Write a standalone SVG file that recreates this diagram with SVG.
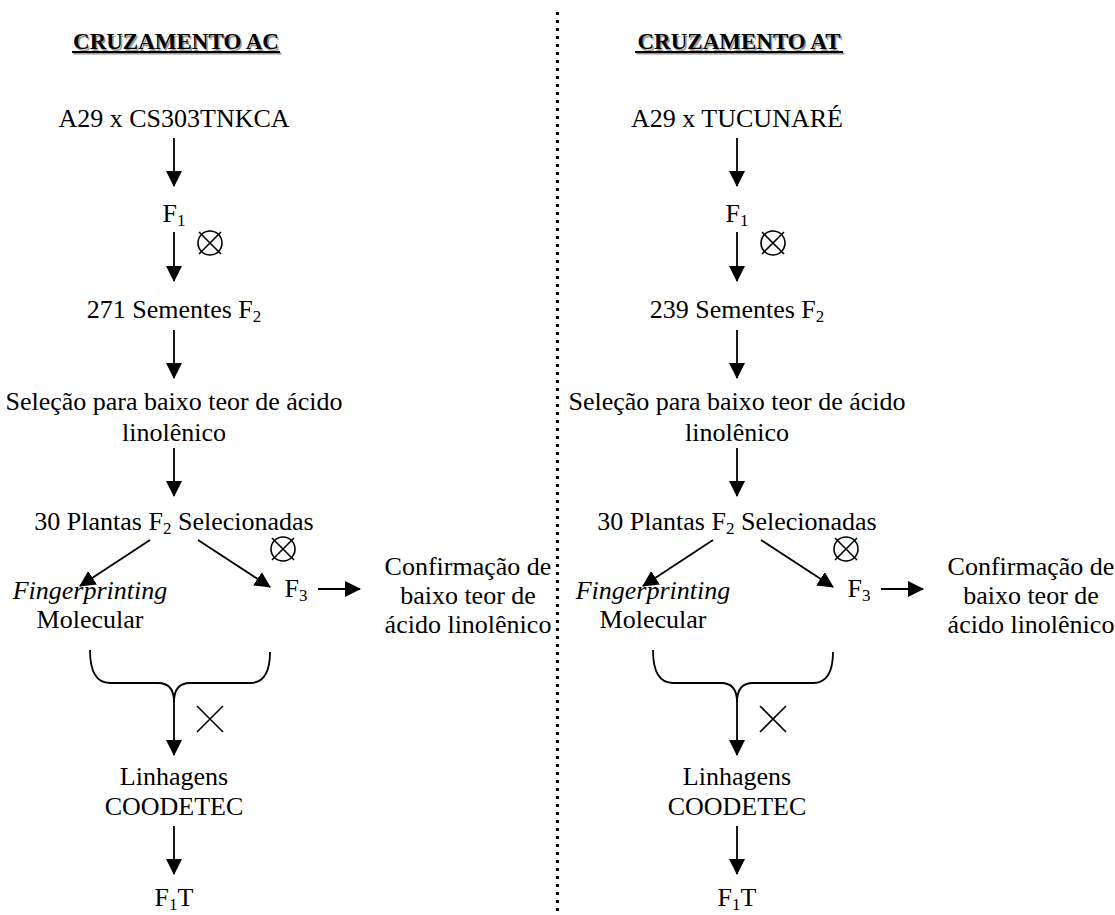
<svg xmlns="http://www.w3.org/2000/svg" width="1115" height="915" viewBox="0 0 1115 915">
<defs>
<style>
text{font-family:"Liberation Serif","Times New Roman",serif;font-size:26px;fill:#000;text-anchor:middle}
.title{font-weight:bold;font-size:23px}
.shadow{fill:#9a9a9a}
.it{font-style:italic}
.sub{font-size:17px}
.ln{stroke:#000;stroke-width:1.8;fill:none}
.arr{stroke:#000;stroke-width:1.8;fill:none;marker-end:url(#ah)}
.sym{stroke:#000;stroke-width:1.6;fill:none}
</style>
<marker id="ah" viewBox="0 0 16 16" refX="15" refY="8" markerWidth="16" markerHeight="16" markerUnits="userSpaceOnUse" orient="auto">
<path d="M0,0 L16,8 L0,16 Z" fill="#000"/>
</marker>
<g id="otimes">
<circle cx="0" cy="0" r="12" class="sym"/>
<path d="M-11,-11 L11,11 M11,-11 L-11,11" class="sym"/>
</g>
<g id="times">
<path d="M-13,-13 L13,13 M13,-13 L-13,13" class="sym" stroke-width="1.4"/>
</g>
</defs>
<rect width="1115" height="915" fill="#fff"/>

<g id="divider">
<line x1="557.5" y1="12" x2="557.5" y2="914" stroke="#000" stroke-width="3" stroke-dasharray="3 5"/>
</g>

<!-- LEFT COLUMN -->
<g id="title-ac">
<text class="title shadow" x="177.5" y="50.5">CRUZAMENTO AC</text>
<rect x="73.5" y="52.5" width="208" height="2" fill="#9a9a9a"/>
<text class="title" x="176" y="49">CRUZAMENTO AC</text>
<rect x="72" y="51" width="208" height="2" fill="#000"/>
</g>
<g id="ac-parents"><text x="174" y="127">A29 x CS303TNKCA</text></g>
<g id="ac-f1"><text x="174" y="222">F<tspan class="sub" dy="4">1</tspan></text></g>
<g id="ac-f2seeds"><text x="174" y="318">271 Sementes F<tspan class="sub" dy="4">2</tspan></text></g>
<g id="ac-selection"><text x="174" y="410">Seleção para baixo teor de ácido</text><text x="174" y="441">linolênico</text></g>
<g id="ac-plants"><text x="174" y="530">30 Plantas F<tspan class="sub" dy="4">2</tspan><tspan dy="-4"> Selecionadas</tspan></text></g>
<g id="ac-fingerprinting"><text class="it" x="90" y="599">Fingerprinting</text><text x="90" y="628">Molecular</text></g>
<g id="ac-f3"><text x="296" y="597">F<tspan class="sub" dy="4">3</tspan></text></g>
<g id="ac-confirm"><text x="468" y="575">Confirmação de</text><text x="468" y="604">baixo teor de</text><text x="468" y="633">ácido linolênico</text></g>
<g id="ac-lines"><text x="174" y="785">Linhagens</text><text x="174" y="815">COODETEC</text></g>
<g id="ac-f1t"><text x="174" y="906">F<tspan class="sub" dy="4">1</tspan><tspan dy="-4">T</tspan></text></g>
<g id="ac-symbols">
<use href="#otimes" x="210" y="243"/>
<use href="#otimes" x="283" y="549"/>
<use href="#times" x="210" y="719"/>
</g>

<!-- RIGHT COLUMN -->
<g id="title-at">
<text class="title shadow" x="740.5" y="50.5">CRUZAMENTO AT</text>
<rect x="636.5" y="52.5" width="208" height="2" fill="#9a9a9a"/>
<text class="title" x="739" y="49">CRUZAMENTO AT</text>
<rect x="635" y="51" width="208" height="2" fill="#000"/>
</g>
<g id="at-parents"><text x="737" y="127">A29 x TUCUNARÉ</text></g>
<g id="at-f1"><text x="737" y="222">F<tspan class="sub" dy="4">1</tspan></text></g>
<g id="at-f2seeds"><text x="737" y="318">239 Sementes F<tspan class="sub" dy="4">2</tspan></text></g>
<g id="at-selection"><text x="737" y="410">Seleção para baixo teor de ácido</text><text x="737" y="441">linolênico</text></g>
<g id="at-plants"><text x="737" y="530">30 Plantas F<tspan class="sub" dy="4">2</tspan><tspan dy="-4"> Selecionadas</tspan></text></g>
<g id="at-fingerprinting"><text class="it" x="653" y="599">Fingerprinting</text><text x="653" y="628">Molecular</text></g>
<g id="at-f3"><text x="859" y="597">F<tspan class="sub" dy="4">3</tspan></text></g>
<g id="at-confirm"><text x="1031" y="575">Confirmação de</text><text x="1031" y="604">baixo teor de</text><text x="1031" y="633">ácido linolênico</text></g>
<g id="at-lines"><text x="737" y="785">Linhagens</text><text x="737" y="815">COODETEC</text></g>
<g id="at-f1t"><text x="737" y="906">F<tspan class="sub" dy="4">1</tspan><tspan dy="-4">T</tspan></text></g>
<g id="at-symbols">
<use href="#otimes" x="773" y="243"/>
<use href="#otimes" x="846" y="549"/>
<use href="#times" x="773" y="719"/>
</g>

<g id="connectors">
<line class="arr" x1="174" y1="138" x2="174" y2="186"/>
<line class="arr" x1="174" y1="232" x2="174" y2="281"/>
<line class="arr" x1="174" y1="330" x2="174" y2="378"/>
<line class="arr" x1="174" y1="448" x2="174" y2="496"/>
<line class="arr" x1="150" y1="540" x2="80" y2="586"/>
<line class="arr" x1="198" y1="540" x2="270" y2="587"/>
<line class="arr" x1="318" y1="589" x2="360" y2="589"/>
<path class="ln" d="M90,650 Q90,683 110,683 L158,683 Q174,683 174,702 Q174,683 190,683 L250,683 Q270,683 270,652"/>
<line class="arr" x1="174" y1="700" x2="174" y2="755"/>
<line class="arr" x1="174" y1="826" x2="174" y2="874"/>

<line class="arr" x1="737" y1="138" x2="737" y2="186"/>
<line class="arr" x1="737" y1="232" x2="737" y2="281"/>
<line class="arr" x1="737" y1="330" x2="737" y2="378"/>
<line class="arr" x1="737" y1="448" x2="737" y2="496"/>
<line class="arr" x1="713" y1="540" x2="643" y2="586"/>
<line class="arr" x1="761" y1="540" x2="833" y2="587"/>
<line class="arr" x1="881" y1="589" x2="923" y2="589"/>
<path class="ln" d="M653,650 Q653,683 673,683 L721,683 Q737,683 737,702 Q737,683 753,683 L813,683 Q833,683 833,652"/>
<line class="arr" x1="737" y1="700" x2="737" y2="755"/>
<line class="arr" x1="737" y1="826" x2="737" y2="874"/>
</g>
</svg>
